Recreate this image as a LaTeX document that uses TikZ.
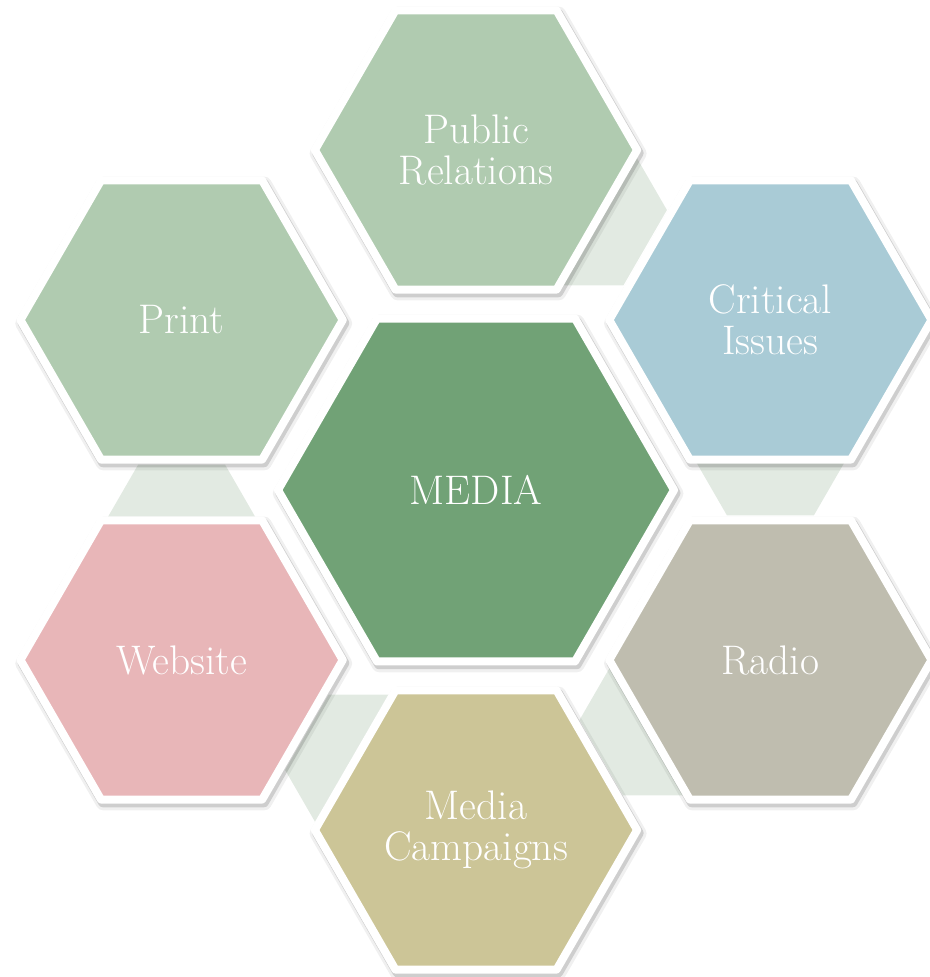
\documentclass[tikz,border=0pt]{standalone}
\usetikzlibrary{shapes.geometric}
\definecolor{palegreen}{HTML}{B0CBB0}
\definecolor{mediagreen}{HTML}{71A276}
\definecolor{issueblue}{HTML}{A9CBD6}
\definecolor{radiogray}{HTML}{BFBDAF}
\definecolor{campkhaki}{HTML}{CCC597}
\definecolor{webpink}{HTML}{E8B6B8}
\definecolor{linkgreen}{HTML}{E2EAE2}
\begin{document}
\begin{tikzpicture}[x=0.75pt,y=-0.75pt,
  hexbase/.style={regular polygon, regular polygon sides=6, inner sep=0pt, outer sep=0pt},
  hexshadow/.style={
    preaction={draw=black, fill=black, opacity=0.06, line width=11pt, line join=round,
      transform canvas={shift={(1.6pt,-2.6pt)}}},
    preaction={draw=black, fill=black, opacity=0.14, line width=7pt, line join=round,
      transform canvas={shift={(1.4pt,-2.3pt)}}}},
  hexcard/.style={hexbase, hexshadow, draw=white, line width=6pt, line join=round,
    text=white, align=center, font=\fontsize{31}{30.5}\selectfont},
  outerhex/.style={hexcard, minimum size=241.7pt},
  centerhex/.style={hexcard, minimum size=297pt},
  linkhex/.style={hexbase, minimum size=130.5pt, fill=linkgreen},
]
\useasboundingbox (0,0) rectangle (930,977);
% connector hexagons (behind)
\node[linkhex] (l1) at (579.9,210) {};
\node[linkhex] (l2) at (770.4,440) {};
\node[linkhex] (l3) at (666.5,720) {};
\node[linkhex] (l4) at (372.1,770) {};
\node[linkhex] (l5) at (181.6,540) {};
% outer hexagons
\node[outerhex, fill=palegreen] (pr) at (476,150) {Public\\Relations};
\node[outerhex, fill=issueblue] (ci) at (770.4,320) {Critical\\Issues};
\node[outerhex, fill=radiogray] (radio) at (770.4,660) {Radio};
\node[outerhex, fill=campkhaki] (mc) at (476,830) {Media\\Campaigns};
\node[outerhex, fill=webpink] (web) at (181.6,660) {Website};
\node[outerhex, fill=palegreen] (print) at (181.6,320) {Print};
% center
\node[centerhex, fill=mediagreen] (media) at (476,490) {MEDIA};
\end{tikzpicture}
\end{document}
